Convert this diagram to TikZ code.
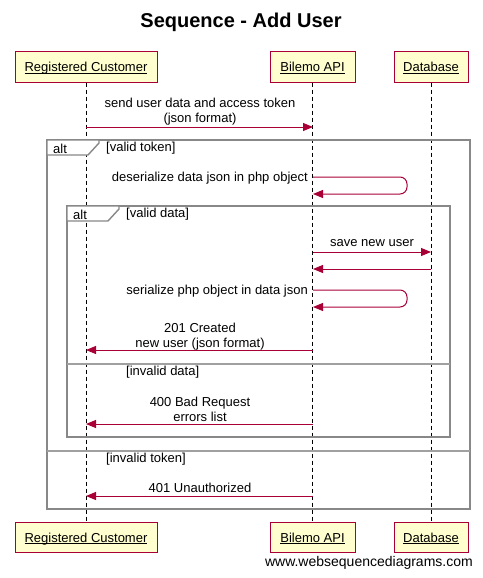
\documentclass[tikz,border=0pt]{standalone}
\usepackage{fontspec}
\setmainfont{Liberation Sans}
\usetikzlibrary{arrows.meta}
\definecolor{wsdred}{HTML}{A80036}
\definecolor{wsdfill}{HTML}{FEFECE}
\definecolor{wsdgray}{HTML}{888888}
\newcommand{\actorul}[1]{\underline{\smash{#1}}}
\tikzset{
  actor/.style={draw=wsdred, fill=wsdfill, line width=1pt, minimum height=30pt, inner sep=0pt, text height=9pt, text depth=0pt, font=\fontsize{13}{15}\selectfont},
  life/.style={dash pattern=on 4pt off 3pt, line width=0.9pt, black},
  msg/.style={draw=wsdred, line width=1pt, -{Triangle[length=10pt,width=8pt]}},
  selfmsg/.style={msg, rounded corners=7pt},
  lbl/.style={font=\fontsize{13}{15}\selectfont, align=center, inner sep=0pt},
  frame/.style={draw=wsdgray, line width=1.8pt},
  framesep/.style={draw=wsdgray!80, line width=1.2pt},
  tag/.style={draw=wsdgray, line width=1.4pt, fill=white},
}
\begin{document}
\begin{tikzpicture}[x=1pt,y=-1pt]
\useasboundingbox (0,0) rectangle (482,578);
\node[font=\fontsize{20}{24}\selectfont\bfseries] (title) at (241,22) {Sequence - Add User};

% participants
\node[actor, minimum width=142pt] (cust) at (86,67) {\actorul{Registered Customer}};
\node[actor, minimum width=85pt] (api) at (312.5,67) {\actorul{Bilemo API}};
\node[actor, minimum width=74pt] (db) at (431,67) {\actorul{Database}};
\node[actor, minimum width=142pt] (custb) at (86,537.5) {\actorul{Registered Customer}};
\node[actor, minimum width=85pt] (apib) at (312.5,537.5) {\actorul{Bilemo API}};
\node[actor, minimum width=74pt] (dbb) at (431,537.5) {\actorul{Database}};

% lifelines
\draw[life] (cust.south) -- (custb.north);
\draw[life] (api.south) -- (apib.north);
\draw[life] (db.south) -- (dbb.north);

% frames
\draw[frame] (47,140) rectangle (470,509);
\draw[tag] (47,140) -- (99,140) -- (99,143) -- (88,155) -- (47,155) -- cycle;
\node[lbl, anchor=west] (alt1) at (53,148.5) {alt};
\node[lbl, anchor=west] (vt) at (106,148.5) {[valid token]};
\draw[framesep] (47,451) -- (470,451);
\node[lbl, anchor=west] (it) at (106,459.5) {[invalid token]};

\draw[frame] (67,206) rectangle (450,437);
\draw[tag] (67,206) -- (119,206) -- (119,209) -- (108,221) -- (67,221) -- cycle;
\node[lbl, anchor=west] (alt2) at (73,214.5) {alt};
\node[lbl, anchor=west] (vd) at (126,214.5) {[valid data]};
\draw[framesep] (67,364) -- (450,364);
\node[lbl, anchor=west] (id) at (126,372.5) {[invalid data]};

% message endpoints
\coordinate (c1) at (86,127);   \coordinate (a1) at (313,127);
\coordinate (a2) at (313,177);  \coordinate (a2b) at (313,194);
\coordinate (a3) at (313,252);  \coordinate (d3) at (431,252);
\coordinate (d4) at (431,269);  \coordinate (a4) at (313,269);
\coordinate (a5) at (313,290);  \coordinate (a5b) at (313,307);
\coordinate (a6) at (313,350);  \coordinate (c6) at (86,350);
\coordinate (a7) at (313,424);  \coordinate (c7) at (86,424);
\coordinate (a8) at (313,496);  \coordinate (c8) at (86,496);

\draw[msg] (c1) -- (a1);
\node[lbl] (t1) at (200,111.5) {send user data and access token\\(json format)};

\draw[selfmsg] (a2) -- (407,177) -- (407,194) -- (a2b);
\node[lbl, anchor=east] (t2) at (308,178.5) {deserialize data json in php object};

\draw[msg] (a3) -- (d3);
\node[lbl] (t3) at (372,243.5) {save new user};
\draw[msg] (d4) -- (a4);

\draw[selfmsg] (a5) -- (407,290) -- (407,307) -- (a5b);
\node[lbl, anchor=east] (t5) at (308,291.5) {serialize php object in data json};

\draw[msg] (a6) -- (c6);
\node[lbl] (t6) at (200,336.5) {201 Created\\new user (json format)};

\draw[msg] (a7) -- (c7);
\node[lbl] (t7) at (200,409.5) {400 Bad Request\\errors list};

\draw[msg] (a8) -- (c8);
\node[lbl] (t8) at (200,487.5) {401 Unauthorized};

\node[font=\fontsize{14}{16}\selectfont, anchor=east, inner sep=0pt] (wm) at (473,563) {www.websequencediagrams.com};
\end{tikzpicture}
\end{document}
